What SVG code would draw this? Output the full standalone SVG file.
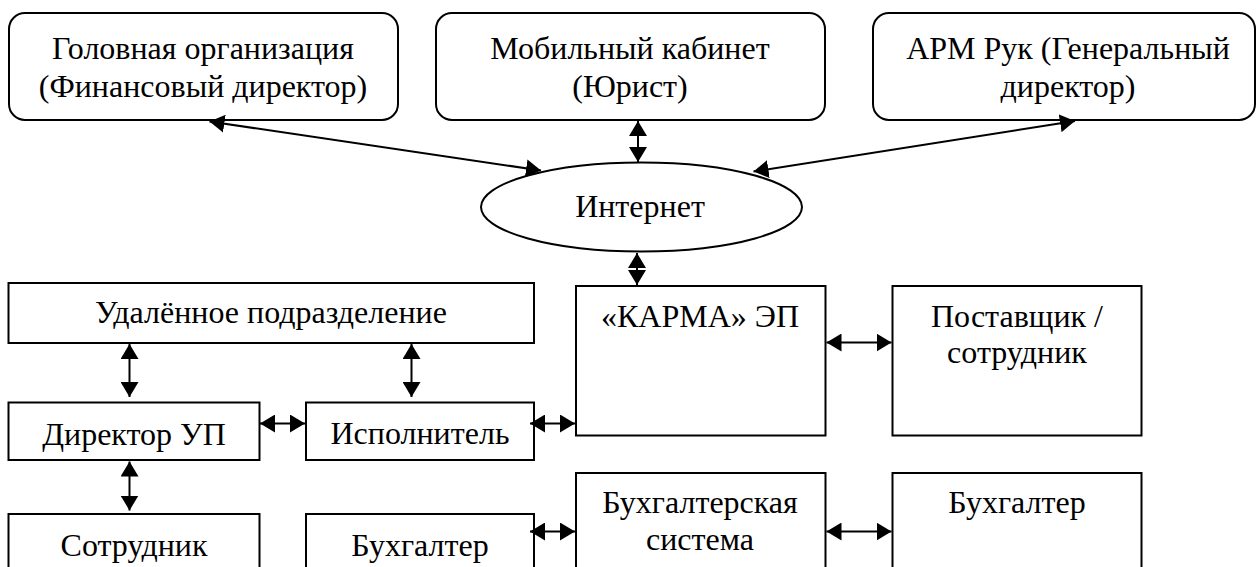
<svg xmlns="http://www.w3.org/2000/svg" width="1257" height="567" viewBox="0 0 1257 567">
<style>
.box{fill:#fff;stroke:#000;stroke-width:2}
.rbox{fill:#fff;stroke:#000;stroke-width:2}
.t{font-family:'Liberation Serif','Times New Roman',serif;font-size:32px;fill:#000;text-anchor:middle}
.c{stroke:#000;stroke-width:2;fill:none;marker-start:url(#ah);marker-end:url(#ah)}
</style>
<defs>
<marker id="ah" markerUnits="userSpaceOnUse" markerWidth="16" markerHeight="18" refX="15" refY="9" orient="auto-start-reverse">
<path d="M0,0 L15,9 L0,18 z" fill="#000"/>
</marker>
</defs>
<rect width="1257" height="567" fill="#fff"/>
<g id="n-head"><rect class="rbox" x="9" y="13" width="389" height="107" rx="16"/><text class="t" x="203" y="59">Головная организация</text><text class="t" x="203" y="97">(Финансовый директор)</text></g>
<g id="n-mobile"><rect class="rbox" x="436" y="13" width="389" height="107" rx="16"/><text class="t" x="630" y="59">Мобильный кабинет</text><text class="t" x="630" y="97">(Юрист)</text></g>
<g id="n-arm"><rect class="rbox" x="873" y="13" width="382" height="107" rx="16"/><text class="t" x="1068" y="59">АРМ Рук (Генеральный</text><text class="t" x="1068" y="97">директор)</text></g>
<g id="n-internet"><ellipse class="box" cx="641.5" cy="207" rx="160.5" ry="44.5"/><text class="t" x="640" y="217">Интернет</text></g>
<g id="n-remote"><rect class="box" x="8.5" y="283" width="525.5" height="60"/><text class="t" x="271" y="323">Удалённое подразделение</text></g>
<g id="n-director"><rect class="box" x="8.5" y="402.5" width="251" height="57.5"/><text class="t" x="134" y="445">Директор УП</text></g>
<g id="n-executor"><rect class="box" x="306" y="402.5" width="228" height="57.5"/><text class="t" x="420" y="444">Исполнитель</text></g>
<g id="n-employee"><rect class="box" x="8.5" y="514" width="251" height="70"/><text class="t" x="134" y="556">Сотрудник</text></g>
<g id="n-accountant1"><rect class="box" x="306" y="514" width="228" height="70"/><text class="t" x="420" y="556">Бухгалтер</text></g>
<g id="n-karma"><rect class="box" x="576" y="286" width="249.5" height="149.5"/><text class="t" x="700" y="327">«КАРМА» ЭП</text></g>
<g id="n-supplier"><rect class="box" x="892.5" y="286" width="249" height="149.5"/><text class="t" x="1017" y="327">Поставщик /</text><text class="t" x="1017" y="363">сотрудник</text></g>
<g id="n-accsystem"><rect class="box" x="576" y="473" width="249.5" height="110"/><text class="t" x="700" y="513">Бухгалтерская</text><text class="t" x="700" y="550">система</text></g>
<g id="n-accountant2"><rect class="box" x="892.5" y="473" width="249" height="110"/><text class="t" x="1017" y="513">Бухгалтер</text></g>
<g id="connectors">
<line class="c" x1="209.5" y1="121.5" x2="541" y2="170.5"/>
<line class="c" x1="638" y1="121" x2="638" y2="162"/>
<line class="c" x1="1075" y1="121" x2="753.5" y2="171.5"/>
<line class="c" x1="637" y1="253" x2="637" y2="285"/>
<line class="c" x1="129.5" y1="344" x2="129.5" y2="397"/>
<line class="c" x1="411.5" y1="344" x2="411.5" y2="397"/>
<line class="c" x1="129.5" y1="461.5" x2="129.5" y2="510.5"/>
<line class="c" x1="260" y1="423.5" x2="305" y2="423.5"/>
<line class="c" x1="530" y1="423.5" x2="575" y2="423.5"/>
<line class="c" x1="826.5" y1="342.5" x2="891.5" y2="342.5"/>
<line class="c" x1="530" y1="531.5" x2="575" y2="531.5"/>
<line class="c" x1="826.5" y1="531.5" x2="891.5" y2="531.5"/>
</g>
</svg>
